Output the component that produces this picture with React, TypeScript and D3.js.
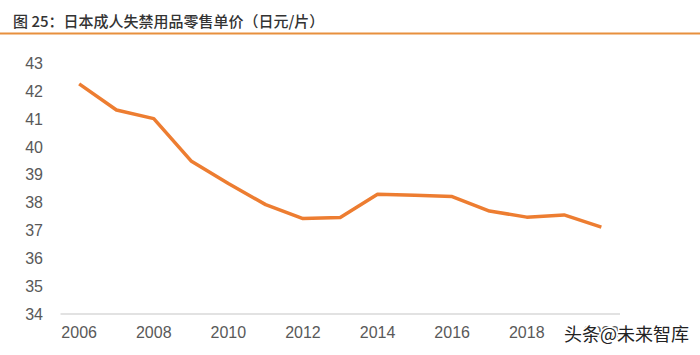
import React from "react";
import * as d3 from "d3";

const years = ["2006","2007","2008","2009","2010","2011","2012","2013","2014","2015","2016","2017","2018","2019","2020"];
const prices = [42.27, 41.33, 41.02, 39.5, 38.69, 37.93, 37.43, 37.47, 38.3, 38.27, 38.22, 37.7, 37.48, 37.56, 37.12];
const yTicks = [34, 35, 36, 37, 38, 39, 40, 41, 42, 43];
const xTickLabels = ["2006","2008","2010","2012","2014","2016","2018","2020"];
const title = "图 25：日本成人失禁用品零售单价（日元/片）";
const watermark = "头条@未来智库";

export default function App() {
  const W = 700, H = 355;
  const x = d3.scaleBand<string>().domain(years).range([60.5, 620]);
  const y = d3.scaleLinear().domain([34, 43]).range([314, 63.5]);
  const cx = (d: string) => (x(d) as number) + x.bandwidth() / 2;
  const line = d3.line<number>().x((_, i) => cx(years[i])).y((v) => y(v));
  const font = "'Liberation Sans', Arial, sans-serif";
  return (
    <svg width={W} height={H} style={{ position: "absolute", left: 0, top: 0, background: "#fff" }}>
      <rect x={0} y={0} width={W} height={H} fill="#fff" />
      <text x={13} y={20} dominantBaseline="central" fontFamily="'Noto Sans CJK SC', sans-serif" fontSize={15} fontWeight={500} fill="#333">{title}</text>
      <line x1={0} x2={W} y1={33.5} y2={33.5} stroke="#E8903E" strokeWidth={2} />
      {yTicks.map((t) => (
        <text key={t} x={43} y={y(t)} textAnchor="end" dominantBaseline="central" fontFamily={font} fontSize={16} fill="#595959">{t}</text>
      ))}
      <line x1={x.range()[0]} x2={x.range()[1]} y1={y(34)} y2={y(34)} stroke="#D9D9D9" strokeWidth={1.5} />
      {xTickLabels.map((t) => (
        <text key={t} x={cx(t)} y={332} textAnchor="middle" dominantBaseline="central" fontFamily={font} fontSize={16} fill="#595959">{t}</text>
      ))}
      <path d={line(prices) || ""} fill="none" stroke="#ED7D31" strokeWidth={3.5} strokeLinejoin="round" />
      <text x={564} y={333} dominantBaseline="central" fontFamily="'Noto Sans CJK SC', sans-serif" fontSize={18} fill="#222" stroke="#fff" strokeWidth={3} paintOrder="stroke" style={{ paintOrder: "stroke" }}>{watermark}</text>
    </svg>
  );
}
